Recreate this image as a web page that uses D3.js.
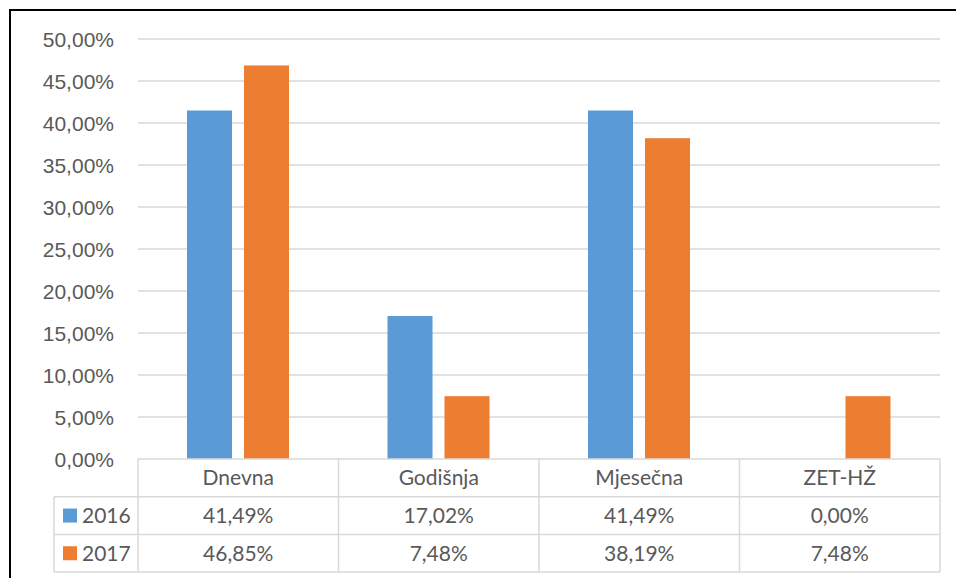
<!DOCTYPE html>
<html lang="hr">
<head>
<meta charset="UTF-8">
<title>Vrste karata 2016-2017</title>
<style>
  body { margin: 0; background: #fff; }
  svg { display: block; font-family: Lato, "Open Sans", sans-serif; }
  .tick text { fill: #595959; font-size: 21px; }
  .tbl text { fill: #595959; font-size: 21px; }
</style>
</head>
<body>
<div id="chart"></div>
<script src="https://cdn.jsdelivr.net/npm/d3@7/dist/d3.min.js"></script>
<script>
  // podaci
  const categories = ["Dnevna", "Godišnja", "Mjesečna", "ZET-HŽ"];
  const years = ["2016", "2017"];
  const values2016 = [0.4149, 0.1702, 0.4149, 0.0];
  const values2017 = [0.4685, 0.0748, 0.3819, 0.0748];
  const yTicks = [0, 0.05, 0.10, 0.15, 0.20, 0.25, 0.30, 0.35, 0.40, 0.45, 0.50];

  const width = 956, height = 578;
  const colors = { "2016": "#5B9BD5", "2017": "#ED7D31" };
  const series = { "2016": values2016, "2017": values2017 };

  const hr = d3.formatLocale({ decimal: ",", thousands: ".", grouping: [3], currency: ["", " kn"] });
  const fmt = hr.format(".2%");

  const svg = d3.select("#chart").append("svg")
    .attr("width", width).attr("height", height);

  // okvir (samo lijevo i gore vidljivo)
  svg.append("path")
    .attr("d", `M10,${height} V10 H${width}`)
    .attr("fill", "none").attr("stroke", "#000").attr("stroke-width", 2);

  const plotLeft = 138, plotRight = 940, plotTop = 39, plotBottom = 459;

  const x = d3.scaleBand().domain(categories).range([plotLeft, plotRight]);
  const xIn = d3.scaleBand().domain(years).range([49, 151]).paddingInner(0.21);
  const y = d3.scaleLinear().domain([0, 0.5]).range([plotBottom, plotTop]);

  // mreža
  svg.append("g").selectAll("line").data(yTicks.slice(1)).join("line")
    .attr("x1", plotLeft).attr("x2", plotRight)
    .attr("y1", d => y(d)).attr("y2", d => y(d))
    .attr("stroke", "#D9D9D9").attr("stroke-width", 1.5);

  // os Y
  const yAxis = svg.append("g")
    .attr("transform", `translate(${plotLeft},0)`)
    .call(d3.axisLeft(y).tickValues(yTicks).tickFormat(fmt).tickSize(0).tickPadding(24));
  yAxis.select(".domain").remove();
  yAxis.selectAll(".tick text").attr("dy", "0.35em");

  // stupci
  years.forEach(yr => {
    svg.append("g").selectAll("rect")
      .data(categories.map((c, i) => ({ c, v: series[yr][i] })))
      .join("rect")
      .attr("x", d => x(d.c) + xIn(yr))
      .attr("width", xIn.bandwidth())
      .attr("y", d => y(d.v))
      .attr("height", d => y(0) - y(d.v))
      .attr("fill", colors[yr]);
  });

  // tablica podataka
  const tbl = svg.append("g").attr("class", "tbl");
  const rowH = 37.7;
  const rowsY = [plotBottom, plotBottom + rowH, plotBottom + 2 * rowH, plotBottom + 3 * rowH];
  const legendLeft = 54;
  const lineStyle = s => s.attr("stroke", "#D9D9D9").attr("stroke-width", 1.5);

  // vodoravne linije
  tbl.append("line").attr("x1", plotLeft).attr("x2", plotRight)
    .attr("y1", rowsY[0]).attr("y2", rowsY[0]).call(lineStyle);
  rowsY.slice(1).forEach(ry => {
    tbl.append("line").attr("x1", legendLeft).attr("x2", plotRight)
      .attr("y1", ry).attr("y2", ry).call(lineStyle);
  });
  // okomite linije
  tbl.append("line").attr("x1", legendLeft).attr("x2", legendLeft)
    .attr("y1", rowsY[1]).attr("y2", rowsY[3]).call(lineStyle);
  categories.forEach(c => {
    tbl.append("line").attr("x1", x(c)).attr("x2", x(c))
      .attr("y1", rowsY[0]).attr("y2", rowsY[3]).call(lineStyle);
  });
  tbl.append("line").attr("x1", plotRight).attr("x2", plotRight)
    .attr("y1", rowsY[0]).attr("y2", rowsY[3]).call(lineStyle);

  // nazivi kategorija
  tbl.selectAll(".cat").data(categories).join("text")
    .attr("class", "cat")
    .attr("x", d => x(d) + x.bandwidth() / 2)
    .attr("y", rowsY[0] + rowH / 2)
    .attr("dy", "0.35em")
    .attr("text-anchor", "middle")
    .text(d => d);

  // redovi s vrijednostima
  years.forEach((yr, r) => {
    const cy = rowsY[r + 1] + rowH / 2;
    tbl.append("rect")
      .attr("x", 63).attr("y", cy - 7)
      .attr("width", 14).attr("height", 14)
      .attr("fill", colors[yr]);
    tbl.append("text")
      .attr("x", 82).attr("y", cy).attr("dy", "0.35em")
      .text(yr);
    tbl.selectAll(".v" + yr).data(series[yr]).join("text")
      .attr("class", "v" + yr)
      .attr("x", (d, i) => x(categories[i]) + x.bandwidth() / 2)
      .attr("y", cy).attr("dy", "0.35em")
      .attr("text-anchor", "middle")
      .text(d => fmt(d));
  });
</script>
</body>
</html>
